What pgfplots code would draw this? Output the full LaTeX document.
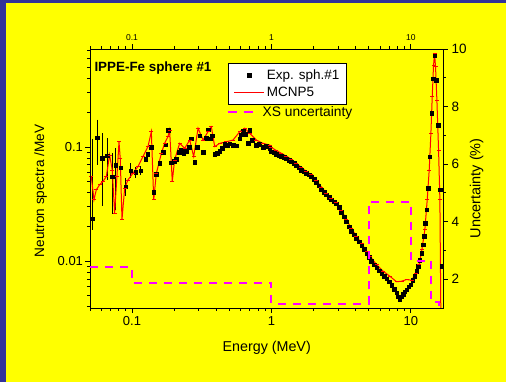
\documentclass[border=0pt]{standalone}
\usepackage{pgfplots}
\pgfplotsset{compat=1.18}
\usepackage{fontspec}
\setmainfont{Liberation Sans}
\definecolor{bgyellow}{RGB}{255,255,0}
\definecolor{bgblue}{RGB}{51,51,153}
\definecolor{xsmag}{RGB}{255,0,255}
\definecolor{mcred}{RGB}{255,0,0}
\newcommand{\fs}[1]{\fontsize{#1}{#1}\selectfont}
\pgfplotsset{
  markimg/.style={legend image code/.code={\path[draw=none] (0pt,0pt) -- (30pt,0pt); \draw[##1] plot coordinates {(15pt,0pt)};}},
  lineimg/.style={legend image code/.code={\draw[##1] (0pt,0pt) -- (30pt,0pt);}},
  dashimg/.style={legend image code/.code={\path[draw=none] (0pt,0pt) -- (33pt,0pt); \draw[##1] (0pt,0pt) -- (26pt,0pt);}},
}
\begin{document}
\begin{tikzpicture}
\fill[bgblue] (0pt,0pt) rectangle (506pt,382pt);
\fill[bgyellow] (6pt,0pt) rectangle (506pt,379pt);
\path[use as bounding box] (0pt,0pt) rectangle (506pt,382pt);
\begin{axis}[
  at={(90pt,74pt)}, anchor=south west,
  scale only axis, width=353pt, height=259pt,
  xmode=log, xmin=0.05, xmax=17,
  tick align=outside,
  major tick length=5pt, minor tick length=3pt,
  axis line style={line width=0.9pt},
  tick style={black, line width=0.8pt},
  /pgf/number format/assume math mode=true,
  log ticks with fixed point,
  ymode=log, ymin=0.0039, ymax=0.72,
  xtick pos=lower, ytick pos=left,
  tick label style={font=\fs{13}},
  yticklabel style={xshift=1.5pt},
  legend style={at={(0.392,0.945)}, anchor=north west, draw=black, line width=0.8pt, fill=white, font=\fs{13.5}, inner xsep=5pt, inner ysep=4pt, row sep=2.5pt, cells={anchor=west}},
]
\addplot[black, only marks, mark=square*, mark size=1.8pt, forget plot,
  error bars/.cd, y dir=both, y explicit, error bar style={black, line width=0.8pt}, error mark options={black, mark size=2pt}]
coordinates {
(0.0519,0.0236) += (0,0.090) -= (0,0.004)
(0.0564,0.121) += (0,0.046) -= (0,0.048)
(0.0612,0.080) += (0,0.047) -= (0,0.048)
(0.0665,0.084) += (0,0.030) -= (0,0.030)
(0.0722,0.055) += (0,0.030) -= (0,0.028)
(0.0763,0.069) += (0,0.025) -= (0,0.040)
(0.0829,0.066) += (0,0.008) -= (0,0.008)
(0.0901,0.045) += (0,0.006) -= (0,0.006)
(0.0978,0.062) += (0,0.007) -= (0,0.006)
(0.1062,0.060) += (0,0.004) -= (0,0.004)
(0.1153,0.062) += (0,0.003) -= (0,0.003)
};
\addplot[black, only marks, mark=square*, mark size=1.8pt, forget plot] coordinates {
(0.1253,0.078) (0.1300,0.086) (0.1377,0.100) (0.1432,0.040) (0.1496,0.058)
(0.1580,0.072) (0.1668,0.090) (0.1740,0.105) (0.1812,0.140) (0.1914,0.073)
(0.2000,0.075) (0.2078,0.078) (0.2180,0.090) (0.2259,0.095) (0.2350,0.088)
(0.2455,0.092) (0.2560,0.100) (0.2667,0.118) (0.2818,0.074) (0.2950,0.100)
(0.3061,0.125) (0.3235,0.090) (0.3400,0.120) (0.3511,0.142) (0.3650,0.118)
(0.3773,0.125) (0.3920,0.086) (0.4100,0.088) (0.4259,0.092) (0.4450,0.097)
(0.4626,0.106) (0.4800,0.104) (0.5024,0.107) (0.5300,0.104) (0.5608,0.103)
(0.5926,0.118) (0.6100,0.128) (0.6261,0.138) (0.6500,0.130) (0.6801,0.108)
(0.6990,0.140) (0.7300,0.115) (0.7801,0.104) (0.8200,0.106) (0.8710,0.100)
(0.9200,0.102) (0.9727,0.097)
(1.000,0.0911) (1.043,0.089) (1.086,0.0869) (1.130,0.085) (1.180,0.0835)
(1.230,0.081) (1.281,0.0791) (1.335,0.077) (1.392,0.0745) (1.450,0.072)
(1.512,0.0688) (1.575,0.066) (1.642,0.0630) (1.710,0.061) (1.784,0.0589)
(1.860,0.057) (1.937,0.0551) (2.020,0.052) (2.103,0.0492) (2.190,0.046)
(2.285,0.0422) (2.380,0.040) (2.482,0.0381) (2.590,0.0362) (2.696,0.0345)
(2.810,0.0332) (2.928,0.0318) (3.050,0.0298) (3.180,0.0268) (3.310,0.0245)
(3.454,0.0222) (3.600,0.0200) (3.752,0.0183) (3.910,0.0171) (4.075,0.0160)
(4.250,0.0148) (4.426,0.0137) (4.610,0.0127) (4.807,0.0118) (5.010,0.0109)
(5.220,0.0100) (5.440,0.0093) (5.671,0.00875) (5.910,0.0083) (6.160,0.00781)
(6.420,0.0074) (6.69,0.00701) (6.97,0.0066) (7.265,0.00614) (7.57,0.0057)
(7.89,0.00529) (8.10,0.0049) (8.34,0.00463) (8.57,0.0049) (8.81,0.00512)
(9.05,0.0054) (9.31,0.00566) (9.62,0.0060) (9.95,0.00626) (10.30,0.0068)
(10.68,0.00740) (11.00,0.0082) (11.29,0.00904) (11.60,0.0102) (11.93,0.0118)
(12.20,0.0140) (12.47,0.0165) (12.72,0.0215) (12.95,0.0282) (13.32,0.0436)
(13.69,0.0824) (14.07,0.1966) (14.47,0.397) (14.79,0.634) (15.20,0.384)
(15.71,0.1555) (16.24,0.0422) (16.60,0.00904)
};
\addplot[mcred, line width=1pt, mark=-, mark size=2pt, mark options={solid, line width=0.8pt}, forget plot] coordinates {
(0.0511,0.0551) (0.0534,0.0345) (0.0555,0.0422) (0.0586,0.0467) (0.0619,0.0499)
(0.0655,0.0551) (0.0691,0.0852) (0.0722,0.0630) (0.0751,0.0264) (0.0780,0.0551)
(0.0807,0.111) (0.0824,0.0796) (0.0848,0.0231) (0.0886,0.0436) (0.0936,0.0515)
(0.1016,0.0589) (0.1104,0.0673) (0.1199,0.0824) (0.1302,0.1007) (0.1377,0.136)
(0.1432,0.0345) (0.1496,0.0589) (0.1625,0.0881) (0.1714,0.1076) (0.1812,0.123)
(0.1862,0.141) (0.1945,0.0499) (0.2022,0.0770) (0.2197,0.1076) (0.2388,0.0974)
(0.2594,0.115) (0.2771,0.0824) (0.2978,0.146) (0.3235,0.115) (0.3511,0.136)
(0.3710,0.150) (0.3920,0.1007) (0.4259,0.1076) (0.4755,0.111) (0.5307,0.115)
(0.5926,0.136) (0.6436,0.146) (0.6990,0.1315) (0.7801,0.115) (0.8710,0.1076)
(0.9727,0.104)
(1.000,0.0990) (1.086,0.0930) (1.180,0.0880) (1.281,0.0830) (1.392,0.0780)
(1.512,0.0720) (1.642,0.0660) (1.784,0.0610) (1.937,0.0570) (2.103,0.0510)
(2.285,0.0445) (2.482,0.0395) (2.696,0.0357) (2.928,0.0325) (3.180,0.0278)
(3.454,0.0232) (3.752,0.0192) (4.075,0.0166) (4.426,0.0143) (4.807,0.0123)
(5.079,0.0111) (5.671,0.00935) (6.33,0.00818) (7.07,0.00740) (7.89,0.00662)
(8.57,0.00669) (9.31,0.00692) (10.11,0.00683) (10.86,0.00781) (11.48,0.00935)
(11.99,0.0126) (12.60,0.0189) (13.10,0.0345) (13.54,0.0630) (13.92,0.131)
(14.23,0.275) (14.54,0.519) (14.79,0.656) (15.03,0.502) (15.37,0.257)
(15.80,0.0942) (16.15,0.0345) (16.42,0.003)
};
\addlegendimage{black, only marks, mark=square*, mark size=2pt, markimg}
\addlegendentry{Exp. sph.\#1}
\addlegendimage{mcred, line width=1pt, lineimg}
\addlegendentry{MCNP5}
\end{axis}
\begin{axis}[
  at={(90pt,74pt)}, anchor=south west,
  scale only axis, width=353pt, height=259pt,
  xmode=log, xmin=0.05, xmax=17,
  tick align=outside,
  major tick length=5pt, minor tick length=3pt,
  axis line style={line width=0.9pt},
  tick style={black, line width=0.8pt},
  /pgf/number format/assume math mode=true,
  log ticks with fixed point,
  ymin=1, ymax=10, ytick={2,4,6,8,10}, minor y tick num=1,
  xtick pos=upper, ytick pos=right,
  xticklabel pos=upper, yticklabel pos=right,
  xticklabel style={font=\fs{8.5}},
  yticklabel style={font=\fs{13.5}},
  legend style={at={(0.378,0.756)}, anchor=west, draw=none, fill=none, font=\fs{13.8}},
]
\addplot[draw=xsmag, line width=2pt, dash pattern=on 8pt off 7pt, const plot, forget plot] coordinates {
(0.05,2.43) (0.1,1.86) (1,1.15) (5,4.7) (10,2.64) (14,1.2) (16,0.5)
};
\addlegendimage{draw=xsmag, line width=2pt, dash pattern=on 9pt off 7pt, dashimg}
\addlegendentry{XS uncertainty}
\end{axis}
\node[rotate=90, font=\fs{13.6}] at (40.7pt,191pt) {Neutron spectra /MeV};
\node[rotate=90, font=\fs{14.5}] at (476.7pt,193.7pt) {Uncertainty (\%)};
\node[font=\fs{14.3}] at (266.7pt,34.3pt) {Energy (MeV)};
\node[anchor=west, font=\bfseries\fs{13.4}, inner sep=0pt] at (94.3pt,314.3pt) {IPPE-Fe sphere \#1};
\end{tikzpicture}
\end{document}
